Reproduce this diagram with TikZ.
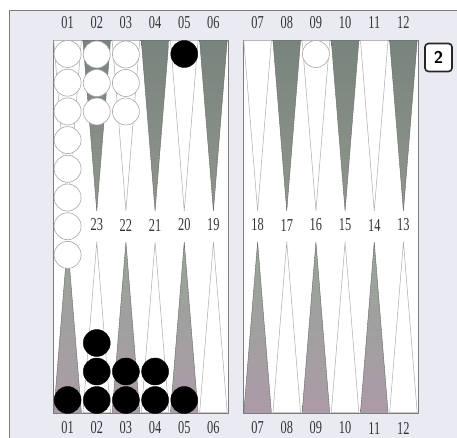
\documentclass[tikz,border=0pt]{standalone}
\usepackage{fontspec}
\newfontfamily\lblfont{Liberation Serif}
\usetikzlibrary{calc}
\definecolor{bgpastel}{RGB}{234,234,242}
\definecolor{edgegray}{RGB}{125,125,125}
\definecolor{ptopA}{RGB}{120,132,125}
\definecolor{ptopB}{RGB}{145,150,140}
\definecolor{pbotA}{RGB}{150,165,150}
\definecolor{pbotB}{RGB}{172,155,168}
\newcommand{\tallnum}[1]{\scalebox{0.95}[1.4]{#1}}
\tikzset{
  whitept/.style={fill=white, draw=gray!65, line width=0.5pt},
  graytop/.style={top color=ptopA, bottom color=ptopB, draw=gray!80!black, line width=0.4pt},
  graybot/.style={top color=pbotA, bottom color=pbotB, draw=gray!80!black, line width=0.4pt},
  lbl/.style={font=\lblfont\fontsize{13}{13}\selectfont, inner sep=0pt, text=black!80},
  wchk/.style={circle, draw=gray!70, fill=white, minimum size=27pt, inner sep=0pt, line width=0.6pt},
  bchk/.style={circle, draw=black, fill=black, minimum size=27pt, inner sep=0pt},
  cubebox/.style={draw=black!85, line width=1.6pt, rounded corners=3.5pt, minimum width=27pt, minimum height=28pt, fill=white, inner sep=0pt, font=\sffamily\bfseries\fontsize{17}{17}\selectfont},
}
\begin{document}
\begin{tikzpicture}[x=1pt,y=-1pt]
\useasboundingbox (0,0) rectangle (457,438);
\fill[white] (0,0) rectangle (457,438);
% outer frame
\filldraw[fill=bgpastel, draw=edgegray, line width=0.9pt] (9,10) rectangle (470,450);
% boards
\filldraw[fill=white, draw=edgegray, line width=0.6pt] (53,40) rectangle (228,413);
\filldraw[fill=white, draw=edgegray, line width=0.6pt] (243,40) rectangle (418,413);
% points
\foreach \x in {53,243}{
  \foreach \i/\ts/\bs in {1/whitept/graybot,2/graytop/whitept,3/whitept/graybot,4/graytop/whitept,5/whitept/graybot,6/graytop/whitept}{
    \pgfmathsetmacro{\xa}{\x+(\i-1)*29.1667+0.8}
    \pgfmathsetmacro{\xb}{\x+\i*29.1667-0.8}
    \pgfmathsetmacro{\xc}{\x+(\i-0.5)*29.1667}
    \path[\ts] (\xa,40.5) -- (\xb,40.5) -- (\xc,211) -- cycle;
    \path[\bs] (\xa,412.5) -- (\xb,412.5) -- (\xc,242) -- cycle;
  }
}
% labels top and bottom
\foreach \i/\t in {1/01,2/02,3/03,4/04,5/05,6/06}{
  \pgfmathsetmacro{\xc}{53+(\i-0.5)*29.1667}
  \node[lbl] (tl\i) at (\xc,22.5) {\tallnum{\t}};
  \node[lbl] (bl\i) at (\xc,428) {\tallnum{\t}};
}
\foreach \i/\t in {1/07,2/08,3/09,4/10,5/11,6/12}{
  \pgfmathsetmacro{\xc}{243+(\i-0.5)*29.1667}
  \node[lbl] (tr\i) at (\xc,22.5) {\tallnum{\t}};
  \node[lbl] (br\i) at (\xc,428) {\tallnum{\t}};
}
% middle labels
\foreach \i/\t in {2/23,3/22,4/21,5/20,6/19}{
  \pgfmathsetmacro{\xc}{53+(\i-0.5)*29.1667}
  \node[lbl] (ml\i) at (\xc,225) {\tallnum{\t}};
}
\foreach \i/\t in {1/18,2/17,3/16,4/15,5/14,6/13}{
  \pgfmathsetmacro{\xc}{243+(\i-0.5)*29.1667}
  \node[lbl] (mr\i) at (\xc,225) {\tallnum{\t}};
}
% white checkers
\foreach \k in {0,...,7}{
  \node[wchk] (wa\k) at (67.6,{54+\k*28.7}) {};
}
\foreach \k in {0,1,2}{
  \node[wchk] (wb\k) at (96.75,{54.5+\k*28.5}) {};
  \node[wchk] (wc\k) at (125.9,{54.5+\k*28.5}) {};
}
\node[wchk] (wd0) at (315.9,54) {};
% black checkers
\node[bchk] (ba0) at (184.25,54) {};
\foreach \c/\n/\xx in {1/0/67.6,2/2/96.75,3/1/125.9,4/1/155.1,5/0/184.25}{
  \foreach \k in {0,...,\n}{
    \node[bchk] (bb\c\k) at (\xx,{400-\k*28.5}) {};
  }
}
% doubling cube
\node[cubebox] (cube) at (438.5,57.5) {2};
\end{tikzpicture}
\end{document}
